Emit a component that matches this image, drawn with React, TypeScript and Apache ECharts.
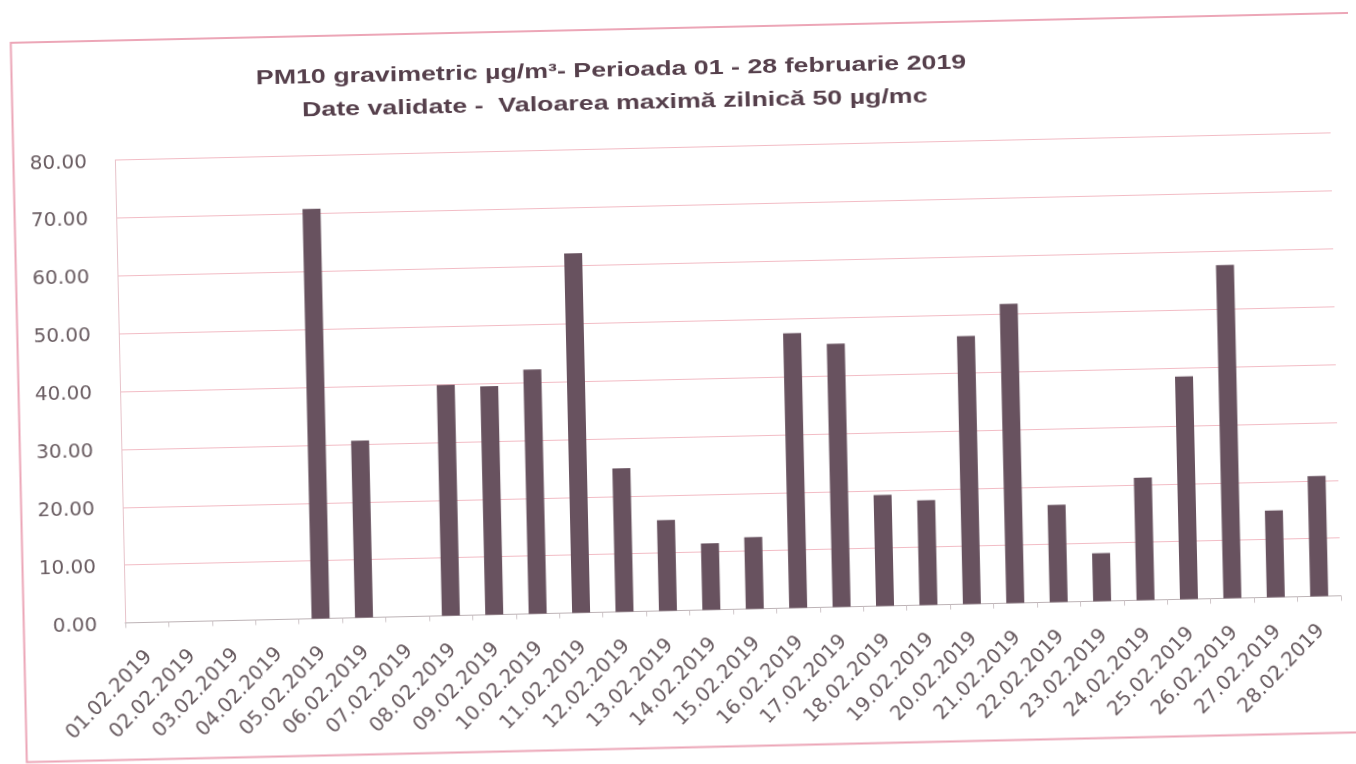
import React, { useEffect, useRef } from "react";
import * as echarts from "echarts";

const categories: string[] = [
  "01.02.2019", "02.02.2019", "03.02.2019", "04.02.2019", "05.02.2019", "06.02.2019", "07.02.2019",
  "08.02.2019", "09.02.2019", "10.02.2019", "11.02.2019", "12.02.2019", "13.02.2019", "14.02.2019",
  "15.02.2019", "16.02.2019", "17.02.2019", "18.02.2019", "19.02.2019", "20.02.2019", "21.02.2019",
  "22.02.2019", "23.02.2019", "24.02.2019", "25.02.2019", "26.02.2019", "27.02.2019", "28.02.2019",
];

const pm10Values: (number | null)[] = [
  null, null, null, null, 70.8, 30.6, null,
  39.9, 39.5, 42.2, 62.1, 24.8, 15.7, 11.5,
  12.4, 47.5, 45.5, 19.2, 18.1, 46.3, 51.7,
  16.8, 8.3, 21.2, 38.5, 57.6, 15.0, 20.8,
];

const yMin = 0;
const yMax = 80;
const yStep = 10;

const titleLines: string[] = [
  "PM10 gravimetric µg/m³- Perioada 01 - 28 februarie 2019",
  "Date validate -  Valoarea maximă zilnică 50 µg/mc",
];

export default function App() {
  const ref = useRef<HTMLDivElement>(null);

  useEffect(() => {
    if (!ref.current) return;
    const chart = echarts.init(ref.current, undefined, { renderer: "svg" });
    const labelColor = "#6a5d62";
    chart.setOption({
      animation: false,
      backgroundColor: "transparent",
      grid: { left: 120, right: 20, top: 147.5, bottom: 153.4, containLabel: false },
      xAxis: {
        type: "category",
        data: categories,
        boundaryGap: true,
        axisLine: { show: true, lineStyle: { color: "#bdb3b6", width: 1 } },
        axisTick: { show: true, length: 5, lineStyle: { color: "#cfc6c9" } },
        axisLabel: {
          interval: 0,
          rotate: 45,
          margin: 30,
          fontFamily: "DejaVu Sans",
          fontSize: 20,
          color: labelColor,
        },
        splitLine: { show: false },
      },
      yAxis: {
        type: "value",
        min: yMin,
        max: yMax,
        interval: yStep,
        axisLine: { show: true, lineStyle: { color: "#e7c3ca", width: 1 } },
        axisTick: { show: false },
        axisLabel: {
          margin: 28,
          fontFamily: "DejaVu Sans",
          fontSize: 20,
          color: labelColor,
          formatter: (v: number) => v.toFixed(2),
        },
        splitLine: { show: true, lineStyle: { color: "#f2bcc5", width: 1 } },
      },
      series: [
        {
          type: "bar",
          data: pm10Values,
          barWidth: 18,
          itemStyle: { color: "#68525f" },
        },
      ],
      graphic: [
        {
          type: "rect",
          silent: true,
          z: -10,
          shape: { x: 18.5, y: 28, width: 1365, height: 719.5 },
          style: { fill: "none", stroke: "#eca6b7", lineWidth: 2 },
        },
        {
          type: "text",
          x: 618,
          y: 68.5,
          scaleX: 1.34,
          style: {
            text: titleLines[0],
            fontFamily: "Liberation Sans",
            fontWeight: "bold",
            fontSize: 20,
            fill: "#553f4b",
            align: "center",
            verticalAlign: "middle",
          },
        },
        {
          type: "text",
          x: 621,
          y: 101.6,
          scaleX: 1.34,
          style: {
            text: titleLines[1],
            fontFamily: "Liberation Sans",
            fontWeight: "bold",
            fontSize: 20,
            fill: "#553f4b",
            align: "center",
            verticalAlign: "middle",
          },
        },
      ],
    });
    return () => chart.dispose();
  }, []);

  return (
    <div
      ref={ref}
      style={{
        position: "fixed",
        left: 0,
        top: 0,
        width: 1356,
        height: 764,
        transform: "rotate(-1.28deg)",
        transformOrigin: "50% 50%",
      }}
    />
  );
}
